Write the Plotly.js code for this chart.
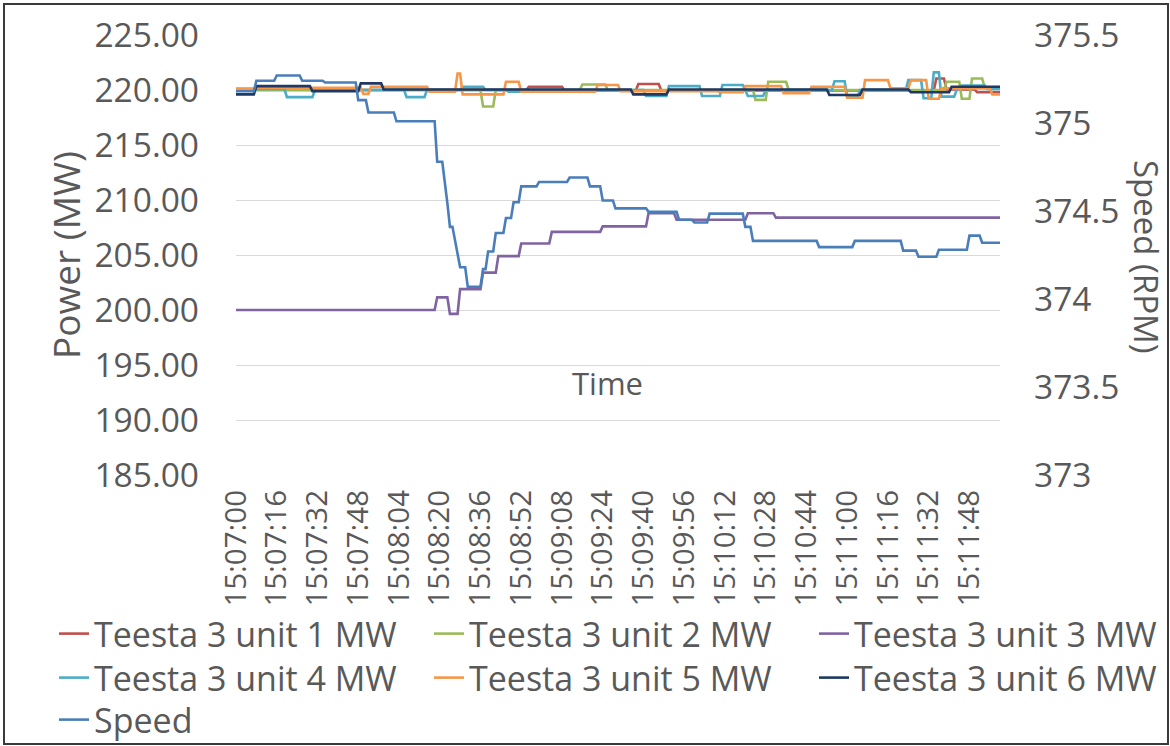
<!DOCTYPE html>
<html>
<head>
<meta charset="utf-8">
<script src="https://cdn.plot.ly/plotly-3.0.1.min.js"></script>
<style>
  html, body { margin: 0; padding: 0; background: #ffffff; }
  #wrap { position: relative; width: 1170px; height: 746px; }
  #chart { position: absolute; left: 0; top: 0; width: 1170px; height: 746px; }
  #frame { position: absolute; left: 3px; top: 3px; width: 1162px; height: 738px; border: 2px solid #3a3a3a; pointer-events: none; }
</style>
</head>
<body>
<div id="wrap"><div id="chart"></div><div id="frame"></div></div>
<script>
// Time axis tick labels (every 16 s from 15:07:00)
const tickLabels = ["15:07:00","15:07:16","15:07:32","15:07:48","15:08:04","15:08:20","15:08:36","15:08:52","15:09:08","15:09:24","15:09:40","15:09:56","15:10:12","15:10:28","15:10:44","15:11:00","15:11:16","15:11:32","15:11:48"];
const powerTicks = [185,190,195,200,205,210,215,220,225];
const speedTicks = [373,373.5,374,374.5,375,375.5];
const speedTickText = ["373","373.5","374","374.5","375","375.5"];

// Series: seconds after 15:07:00 and the value read at that instant
const unit1T = [0,114,115,128,129,157,158,166,167,274,275,278,279,290,291,300];
const unit1P = [220.0,220.0,220.3,220.3,219.95,219.95,220.55,220.55,219.95,219.95,221.05,221.05,220.05,220.05,219.8,219.8];

const unit2T = [0,96,97,101,102,135,136,145,146,203,204,208,209,216,217,278,279,284,285,288,289,293,294,300];
const unit2P = [220.0,220.0,218.5,218.5,220.0,220.0,220.5,220.5,220.0,220.0,219.1,219.1,220.75,220.75,220.0,220.0,220.75,220.75,219.2,219.2,221.05,221.05,220.2,220.2];

const unit3T = [0,78,79,83,84,87,88,96,97,102,103,111,112,123,124,143,144,161,162,172,173,200,201,211,212,300];
const unit3P = [200.0,200.0,201.15,201.15,199.65,199.65,201.9,201.9,203.4,203.4,204.9,204.9,206.05,206.05,207.1,207.1,207.6,207.6,208.8,208.8,208.2,208.2,208.8,208.8,208.4,208.4];

const unit4T = [0,19,20,30,31,66,67,74,75,88,89,97,98,106,107,112,113,160,161,169,170,182,183,190,191,199,201,207,208,234,235,239,240,244,245,263,264,269,270,273,274,276,277,282,283,285,294,295,300];
const unit4P = [220.1,220.1,219.35,219.35,220.0,220.0,219.35,219.35,220.0,220.0,220.3,220.3,220.0,220.0,219.85,219.85,220.0,220.0,219.45,219.45,220.35,220.35,219.45,219.45,220.45,220.45,219.45,219.45,220.0,220.0,220.8,220.8,219.35,219.35,220.0,220.0,220.9,220.9,219.25,219.25,221.6,221.6,219.4,219.4,220.0,220.4,220.4,220.1,220.1];

const unit5T = [0,7,8,49,50,52,53,75,76,86,87,88,89,105,106,111,112,141,142,150,151,189,190,199,200,214,215,225,226,239,240,246,247,256,257,264,265,271,272,276,277,296,297,300];
const unit5P = [220.1,220.1,220.2,220.2,219.65,219.65,220.3,220.3,219.85,219.85,221.5,221.5,219.6,219.6,220.75,220.75,219.85,219.85,220.45,220.45,219.9,219.9,219.8,219.8,220.35,220.35,219.7,219.7,220.3,220.3,219.3,219.3,220.9,220.9,220.15,220.15,220.9,220.9,219.2,219.2,220.15,220.15,219.6,219.6];

const unit6T = [0,7,8,29,30,48,49,57,58,155,156,169,170,232,233,245,246,264,265,280,281,300];
const unit6P = [219.6,219.6,220.35,220.35,219.9,219.9,220.6,220.6,220.05,220.05,219.6,219.6,220.05,220.05,219.55,219.55,220.05,220.05,219.8,219.8,220.3,220.3];

const speedT = [0,7,8,15,16,25,26,34,35,47,48,51,52,62,63,78,79,81,83,84,85,88,90,91,96,97,98,99,101,102,105,106,108,109,111,112,118,119,130,131,138,139,143,144,148,149,161,162,173,174,179,180,185,186,199,200,202,203,228,229,242,243,261,262,267,268,275,276,287,288,292,293,300];
const speedRPM = [375.18,375.18,375.24,375.24,375.27,375.27,375.24,375.24,375.23,375.23,375.13,375.13,375.06,375.06,375.01,375.01,374.78,374.78,374.545,374.41,374.41,374.18,374.18,374.07,374.07,374.17,374.17,374.27,374.27,374.375,374.375,374.46,374.46,374.55,374.55,374.64,374.64,374.665,374.665,374.69,374.69,374.64,374.64,374.56,374.56,374.515,374.515,374.495,374.495,374.45,374.45,374.435,374.435,374.485,374.485,374.41,374.41,374.33,374.33,374.295,374.295,374.33,374.33,374.275,374.275,374.24,374.24,374.28,374.28,374.36,374.36,374.32,374.32];

const seriesNames = ["Teesta 3 unit 1 MW","Teesta 3 unit 2 MW","Teesta 3 unit 3 MW","Teesta 3 unit 4 MW","Teesta 3 unit 5 MW","Teesta 3 unit 6 MW","Speed"];
const seriesColors = ["#C0504D","#9BBB59","#8064A2","#4BACC6","#F79646","#1F3864","#4A7EBB"];

function toSec(lbl){ const p = lbl.split(":").map(Number); return (p[0]*3600+p[1]*60+p[2]) - (15*3600+7*60); }
const tickVals = tickLabels.map(toSec);

const xs = [unit1T,unit2T,unit3T,unit4T,unit5T,unit6T,speedT];
const ys = [unit1P,unit2P,unit3P,unit4P,unit5P,unit6P,speedRPM];
const legendIds = ['legend','legend2','legend3','legend4','legend5','legend6','legend7'];

const traces = xs.map((x,i)=>({
  x: x, y: ys[i], name: seriesNames[i], type: 'scatter', mode: 'lines',
  line: {color: seriesColors[i], width: 2.6},
  yaxis: i===6 ? 'y2' : 'y', hoverinfo: 'skip', legend: legendIds[i]
}));

const txt = '#595959';
const fnt = 'Open Sans, Segoe UI, sans-serif';

// plot area in pixels: left 236, right 1000, top 35, bottom 475
const PL = 236, PW = 764, PB = 475, PH = 440;
const px2x = p => (p - PL) / PW;
const px2y = p => (PB - p) / PH;

const layout = {
  width: 1170, height: 746,
  margin: {l: 236, r: 170, t: 35, b: 271, autoexpand: false},
  paper_bgcolor: '#ffffff', plot_bgcolor: '#ffffff',
  font: {family: fnt, color: txt},
  showlegend: true,
  xaxis: {
    range: [0, 300], tickvals: tickVals, ticktext: tickLabels, tickangle: -90,
    showgrid: false, zeroline: false, showline: false, automargin: false,
    ticks: '', tickfont: {size: 29.5, color: txt, family: fnt}, ticklabelstandoff: 8
  },
  yaxis: {
    range: [185, 225], tickvals: powerTicks, ticktext: powerTicks.map(v=>v.toFixed(2)),
    showgrid: true, gridcolor: '#D9D9D9', gridwidth: 1, zeroline: false, showline: false, automargin: false,
    ticks: '', tickfont: {size: 33.5, color: txt, family: fnt}, ticklabelstandoff: 36,
    title: {text: 'Power (MW)', font: {size: 37, color: txt, family: fnt}, standoff: 2}
  },
  yaxis2: {
    range: [373, 375.5], tickvals: speedTicks, ticktext: speedTickText, overlaying: 'y', side: 'right',
    showgrid: false, zeroline: false, showline: false, ticks: '', automargin: false,
    tickfont: {size: 33.5, color: txt, family: fnt}, ticklabelstandoff: 33
  },
  annotations: [
    {text: 'Time', xref: 'paper', yref: 'paper', x: px2x(607), y: px2y(383),
     xanchor: 'center', yanchor: 'middle', showarrow: false, font: {size: 31, color: txt, family: fnt}},
    {text: 'Speed (RPM)', xref: 'paper', yref: 'paper', x: px2x(1146), y: px2y(256),
     xanchor: 'center', yanchor: 'middle', textangle: 90, showarrow: false, font: {size: 33, color: txt, family: fnt}}
  ]
};

// legend grid: three columns, three rows (text starts at 95 / 470 / 855 px; row centres 634 / 678 / 720 px)
const colLeft = [54, 429, 814];
const rowMid = [634, 678, 720];
legendIds.forEach((id, i) => {
  layout[id] = {
    orientation: 'v', x: px2x(colLeft[i % 3]), xanchor: 'left', y: px2y(rowMid[Math.floor(i / 3)]), yanchor: 'middle',
    font: {size: 34, color: txt, family: fnt}, itemwidth: 30, bgcolor: 'rgba(0,0,0,0)', borderwidth: 0
  };
});

Plotly.newPlot('chart', traces, layout, {displayModeBar: false, staticPlot: true});
</script>
</body>
</html>
